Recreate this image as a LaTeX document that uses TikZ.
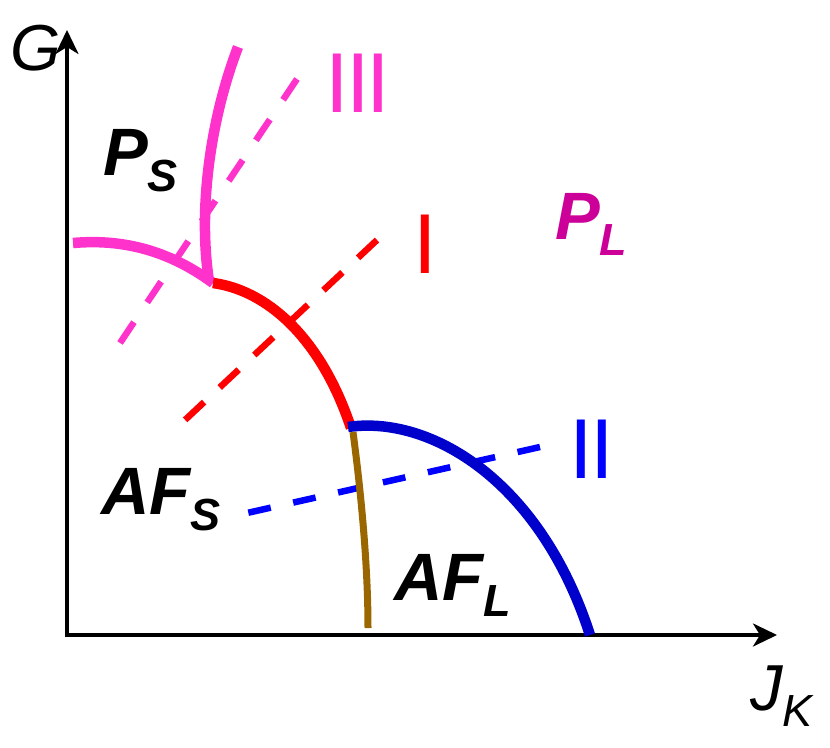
\documentclass[tikz,border=0pt]{standalone}
\usepackage{fontspec}
\setmainfont{Liberation Sans}
\usetikzlibrary{arrows.meta}
\definecolor{pinkc}{HTML}{FF33CC}
\definecolor{redc}{HTML}{FF0000}
\definecolor{bluec}{HTML}{0000CC}
\definecolor{blued}{HTML}{0000FF}
\definecolor{brownc}{HTML}{996600}
\definecolor{plc}{HTML}{CC0099}
\newcommand\phlab[2]{#1\raisebox{-16.5pt}{\fontsize{45}{50}\selectfont #2}}
\tikzset{
  axis/.style={line width=3.5pt,-{Stealth[length=24pt,width=23pt,inset=7pt]}},
  phase/.style={line width=10.5pt},
  guide/.style={line width=6.5pt},
  biglab/.style={inner sep=0pt,font=\fontsize{67}{80}\selectfont\bfseries\itshape},
  roman/.style={inner sep=0pt,anchor=base,font=\fontsize{85}{90}\selectfont},
  axlab/.style={inner sep=0pt,anchor=base west,font=\fontsize{65}{75}\selectfont\itshape}
}
\begin{document}
\begin{tikzpicture}[x=1pt,y=-1pt]
\useasboundingbox (0,0) rectangle (830,747);
% axes
\coordinate (O) at (67,635);
\coordinate (Ytip) at (67,30);
\coordinate (Xtip) at (777,635);
\draw[axis] (67,637) -- (Ytip);
\draw[axis] (65.5,635) -- (Xtip);
\node[axlab] (G) at (10,70) {G};
\node[axlab] (JK) at (750,710) {\phlab{J}{K}};
% junction points
\coordinate (T1) at (213,283);
\coordinate (T2) at (351,428);
% dashed guide lines
\coordinate (g3a) at (120,343); \coordinate (g3b) at (297,79);
\coordinate (g1a) at (185,420); \coordinate (g1b) at (377,240);
\coordinate (g2a) at (247,513); \coordinate (g2b) at (540,447);
\draw[guide,pinkc,dash pattern=on 25pt off 23.8pt] (g3b) -- (g3a);
\draw[guide,redc,dash pattern=on 26pt off 21.4pt] (g1b) -- (g1a);
\draw[guide,blued,dash pattern=on 23pt off 23pt] (g2b) -- (g2a);
% phase boundaries
\draw[phase,pinkc] (73,243) .. controls (130,238) and (175,255) .. (T1);
\draw[phase,pinkc] (238,47) .. controls (210,120) and (198,210) .. (209,281);
\draw[phase,redc] (T1) .. controls (265,290) and (320,335) .. (T2);
\draw[line width=7pt,brownc] (353,432) .. controls (362,500) and (368,570) .. (368,628);
\draw[phase,bluec] (348,427) .. controls (430,415) and (540,480) .. (590,635);
% labels
\node[biglab,anchor=base west] (PS) at (103,175) {\phlab{P}{S}};
\node[biglab,anchor=base west,plc] (PL) at (555,239) {\phlab{P}{L}};
\node[biglab,anchor=base west] (AFS) at (101,514) {\phlab{AF}{S}};
\node[biglab,anchor=base west] (AFL) at (394,600) {\phlab{AF}{L}};
\node[roman,redc] (I) at (425,273) {I};
\node[roman,blued] (II) at (592,478) {I\kern-3ptI};
\node[roman,pinkc] (III) at (358,112) {I\kern-3ptI\kern-3ptI};
\end{tikzpicture}
\end{document}
